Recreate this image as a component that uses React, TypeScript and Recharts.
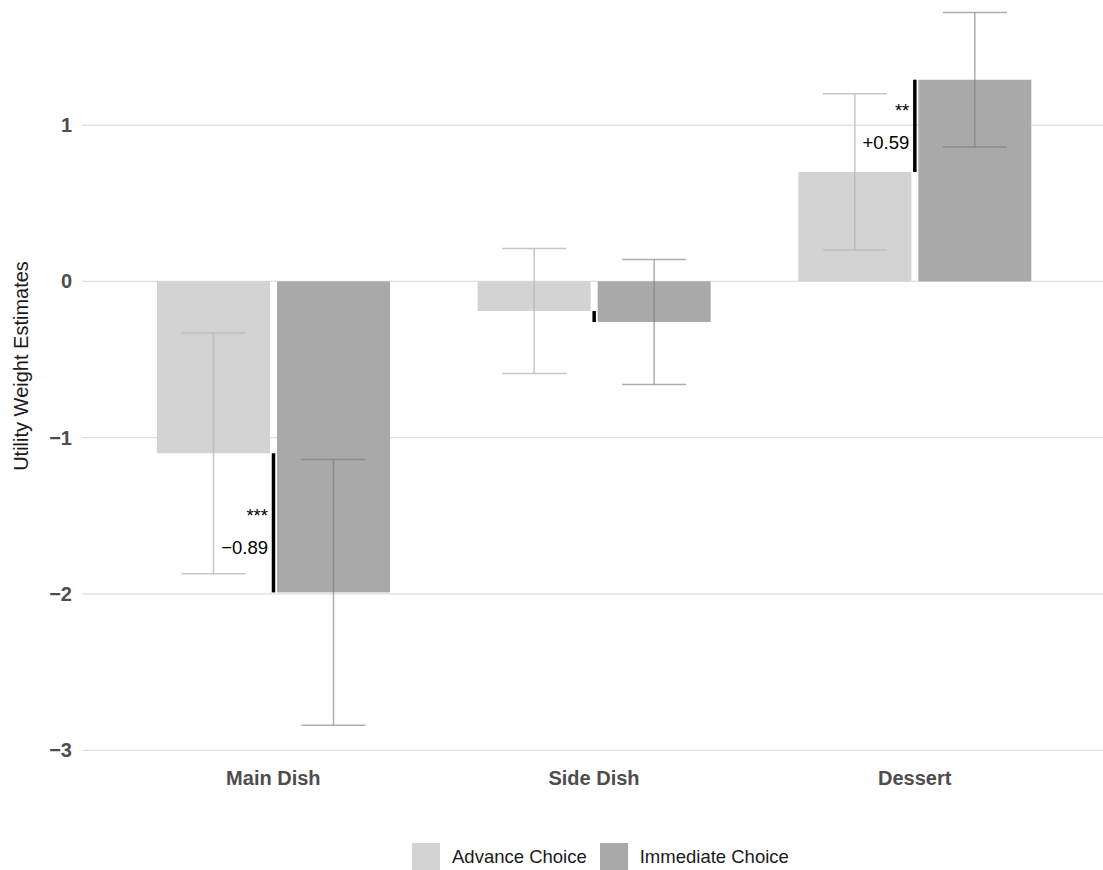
import React from 'react';
import { BarChart, Bar, XAxis, YAxis, CartesianGrid, ErrorBar, Legend, Label } from 'recharts';

// Conjoint utility weights per course, advance vs. immediate choice
const categories = ['Main Dish', 'Side Dish', 'Dessert'];
const advanceValues = [-1.1, -0.19, 0.7];
const advanceErrors = [0.77, 0.4, 0.5];
const immediateValues = [-1.99, -0.26, 1.29];
const immediateErrors = [0.85, 0.4, 0.43];
const significance = ['***', '', '**'];
const yTicks = [-3, -2, -1, 0, 1];

const ADVANCE_FILL = '#d3d3d3';
const IMMEDIATE_FILL = '#a9a9a9';
const BAR_GAP = 7;
const FONT = '"Liberation Sans", Arial, Helvetica, sans-serif';

const data = categories.map((category, i) => ({
  category,
  advance: advanceValues[i],
  advanceErr: advanceErrors[i],
  immediate: immediateValues[i],
  immediateErr: immediateErrors[i],
  stars: significance[i],
}));

const minus = (v: number) => (v < 0 ? '\u2212' + Math.abs(v) : String(v));
const signedDiff = (d: number) => (d >= 0 ? '+' : '\u2212') + Math.abs(d).toFixed(2);

// Immediate bar plus a black bracket from the advance value to the immediate value
const ImmediateShape = (props: any) => {
  const { x, y, width, height, fill } = props;
  const entry = props.payload ?? props;
  const top = Math.min(y, y + height);
  const bottom = Math.max(y, y + height);
  const value = entry.immediate;
  const zeroPx = value >= 0 ? bottom : top;
  const ppu = (bottom - top) / Math.abs(value);
  const advPx = zeroPx - entry.advance * ppu;
  const valPx = zeroPx - value * ppu;
  const segTop = Math.min(advPx, valPx);
  const segBottom = Math.max(advPx, valPx);
  const segLen = segBottom - segTop;
  const lineX = x - BAR_GAP / 2;
  const valueBaseline = segTop + 0.675 * segLen + 6.6;
  return (
    <g>
      <rect x={x} y={top} width={width} height={bottom - top} fill={fill} />
      <rect x={lineX - 1.75} y={segTop} width={3.5} height={segLen} fill="#000" />
      {entry.stars ? (
        <g fontFamily={FONT} fontSize={18.5} fill="#000" textAnchor="end">
          <text x={lineX - 5.5} y={valueBaseline - 32}>{entry.stars}</text>
          <text x={lineX - 5.5} y={valueBaseline}>{signedDiff(value - entry.advance)}</text>
        </g>
      ) : null}
    </g>
  );
};

const XTick = (props: any) => {
  const { x, y, payload } = props;
  return (
    <text x={x} y={y} dy={23} textAnchor="middle" fontFamily={FONT} fontSize={20} fontWeight="bold" fill="#4d4d4d">
      {payload.value}
    </text>
  );
};

const YTick = (props: any) => {
  const { x, y, payload } = props;
  return (
    <text x={x} y={y} dy="0.35em" textAnchor="end" fontFamily={FONT} fontSize={20} fontWeight="bold" fill="#4d4d4d">
      {minus(payload.value)}
    </text>
  );
};

const YTitle = () => (
  <text x={28.3} y={366} transform="rotate(-90, 28.3, 366)" textAnchor="middle" fontFamily={FONT} fontSize={20} fill="#1a1a1a">
    Utility Weight Estimates
  </text>
);

const LegendContent = (props: any) => {
  const items = props.payload || [];
  return (
    <div style={{ display: 'flex', alignItems: 'center', paddingTop: 31, paddingLeft: 412, fontFamily: FONT, fontSize: 18.5, color: '#1a1a1a' }}>
      {items.map((item: any, i: number) => (
        <React.Fragment key={item.value}>
          <span style={{ display: 'inline-block', width: 28, height: 28, background: item.color, marginLeft: i === 0 ? 0 : 13 }} />
          <span style={{ marginLeft: 12, lineHeight: '28px' }}>{item.value}</span>
        </React.Fragment>
      ))}
    </div>
  );
};

export default function App() {
  return (
    <div style={{ position: 'absolute', left: 0, top: 0, width: 1103, height: 870, background: '#fff' }}>
      <BarChart width={1103} height={870} data={data} margin={{ top: 0, right: 0, bottom: 0, left: 0 }} barGap={BAR_GAP}>
        <CartesianGrid vertical={false} stroke="#dedede" strokeWidth={1.3} syncWithTicks />
        <XAxis
          dataKey="category"
          axisLine={false}
          tickLine={false}
          tickSize={0}
          tickMargin={0}
          height={50}
          padding={{ left: 31, right: 28 }}
          tick={<XTick />}
          interval={0}
        />
        <YAxis
          width={82}
          domain={[-3.075, 1.8]}
          ticks={yTicks}
          allowDataOverflow
          axisLine={false}
          tickLine={false}
          tickSize={0}
          tickMargin={10}
          tick={<YTick />}
        >
          <Label content={<YTitle />} />
        </YAxis>
        <Legend verticalAlign="bottom" height={58} content={<LegendContent />} wrapperStyle={{ left: 0, width: 1103 }} />
        <Bar dataKey="advance" name="Advance Choice" fill={ADVANCE_FILL} barSize={113} isAnimationActive={false}>
          <ErrorBar dataKey="advanceErr" width={32} stroke="rgba(185,185,185,0.8)" strokeWidth={1.5} isAnimationActive={false} />
        </Bar>
        <Bar dataKey="immediate" name="Immediate Choice" fill={IMMEDIATE_FILL} barSize={113} shape={<ImmediateShape />} isAnimationActive={false}>
          <ErrorBar dataKey="immediateErr" width={32} stroke="rgba(120,120,120,0.6)" strokeWidth={1.5} isAnimationActive={false} />
        </Bar>
      </BarChart>
    </div>
  );
}
